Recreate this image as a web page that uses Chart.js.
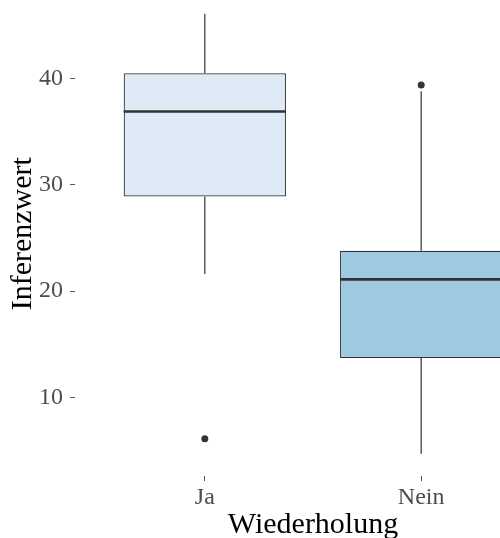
<!DOCTYPE html>
<html>
<head>
<meta charset="utf-8">
<script src="https://cdn.jsdelivr.net/npm/chart.js@4.4.1/dist/chart.umd.min.js"></script>
<style>
  html, body { margin: 0; padding: 0; background: #fff; }
  body { width: 500px; height: 538px; overflow: hidden; position: relative; }
  #wrap { position: absolute; left: 0; top: -30px; width: 600px; height: 600px; }
</style>
</head>
<body>
<div id="wrap"><canvas id="chart"></canvas></div>
<script>
// box plot stats per category
const categories = ["Ja", "Nein"];
const lowerWhisker = [21.6, 4.7];
const q1 = [28.9, 13.7];
const median = [36.9, 21.1];
const q3 = [40.5, 23.8];
const upperWhisker = [46.1, 38.8];
const outliers = [[6.1], [39.4]];
const yTicks = [10, 20, 30, 40];

const boxFill = ["#deebf7", "#9ecae1"];
const ink = "#333333";
const serif = "'Liberation Serif', 'Times New Roman', serif";

// median line + whiskers, drawn on top of the bars using the scales
const boxExtras = {
  id: "boxExtras",
  afterDatasetsDraw(chart) {
    const y = chart.scales.y;
    const meta = chart.getDatasetMeta(0);
    const ctx = chart.ctx;
    ctx.save();
    ctx.strokeStyle = ink;
    meta.data.forEach((bar, i) => {
      ctx.lineWidth = 1.2;
      ctx.beginPath();
      ctx.moveTo(bar.x, y.getPixelForValue(q3[i]));
      ctx.lineTo(bar.x, y.getPixelForValue(upperWhisker[i]));
      ctx.moveTo(bar.x, y.getPixelForValue(q1[i]));
      ctx.lineTo(bar.x, y.getPixelForValue(lowerWhisker[i]));
      ctx.stroke();
      ctx.lineWidth = 2.6;
      const my = y.getPixelForValue(median[i]);
      ctx.beginPath();
      ctx.moveTo(bar.x - bar.width / 2, my);
      ctx.lineTo(bar.x + bar.width / 2, my);
      ctx.stroke();
    });
    ctx.restore();
  }
};

const outlierPoints = [];
outliers.forEach((list, i) => list.forEach(v => outlierPoints.push({ x: i + 1, y: v })));

new Chart(document.getElementById("chart"), {
  data: {
    datasets: [
      {
        type: "bar",
        data: categories.map((c, i) => ({ x: i + 1, y: [q1[i], q3[i]] })),
        backgroundColor: boxFill,
        borderColor: ink,
        borderWidth: 1.2,
        borderSkipped: false,
        categoryPercentage: 1,
        barPercentage: 0.75
      },
      {
        type: "scatter",
        data: outlierPoints,
        pointRadius: 3.5,
        pointBackgroundColor: ink,
        pointBorderWidth: 0
      }
    ]
  },
  options: {
    responsive: true,
    maintainAspectRatio: false,
    animation: false,
    layout: { padding: { top: 21, left: 0, right: 49, bottom: 23 } },
    plugins: { legend: { display: false }, tooltip: { enabled: false } },
    scales: {
      x: {
        type: "linear",
        min: 0.4,
        max: 2.6,
        offset: false,
        afterBuildTicks: s => { s.ticks = categories.map((c, i) => ({ value: i + 1 })); },
        afterFit: s => { s.height = 71; },
        ticks: {
          callback: v => categories[v - 1],
          font: { family: serif, size: 24 },
          color: "#4d4d4d",
          padding: 2
        },
        grid: { offset: false, drawOnChartArea: false, drawTicks: true, tickLength: 5, color: "#555" },
        border: { display: false },
        title: {
          display: true,
          text: "Wiederholung",
          font: { family: serif, size: 30 },
          color: "#000",
          padding: { top: 4, bottom: 4 }
        }
      },
      y: {
        min: 2.6,
        max: 48.2,
        afterBuildTicks: s => { s.ticks = yTicks.map(v => ({ value: v })); },
        afterFit: s => { s.width = 75; },
        ticks: {
          font: { family: serif, size: 24 },
          color: "#4d4d4d",
          padding: 7
        },
        grid: { drawOnChartArea: false, drawTicks: true, tickLength: 5, color: "#555" },
        border: { display: false },
        title: {
          display: true,
          text: "Inferenzwert",
          font: { family: serif, size: 30 },
          color: "#000",
          padding: { top: 5, bottom: 4 }
        }
      }
    }
  },
  plugins: [boxExtras]
});
</script>
</body>
</html>
